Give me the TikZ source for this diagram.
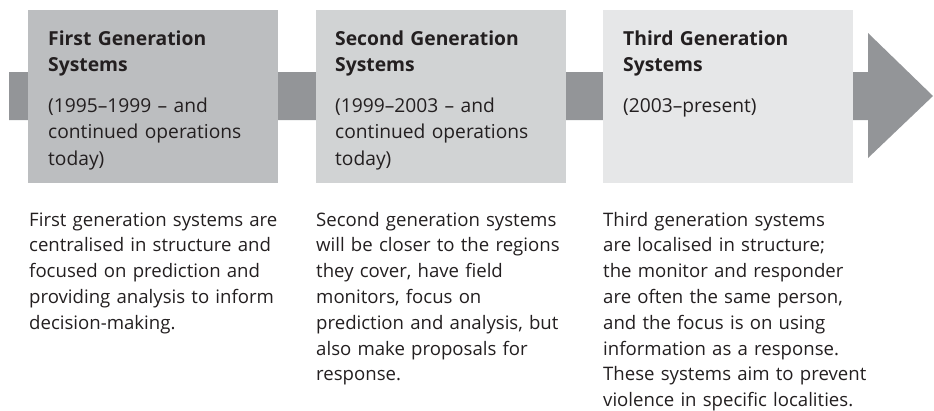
\documentclass[tikz,border=0pt]{standalone}
\usepackage{fontspec}
\setmainfont{Open Sans}
\definecolor{bargray}{HTML}{939598}
\definecolor{boxa}{HTML}{BCBEC0}
\definecolor{boxb}{HTML}{D1D3D4}
\definecolor{boxc}{HTML}{E6E7E8}
\definecolor{ink}{HTML}{231F20}
\tikzset{
  genbox/.style={anchor=north west, minimum width=250pt, minimum height=173pt, inner sep=0pt, draw=none},
  titletext/.style={anchor=base west, inner sep=0pt, text width=240pt, align=left, text=ink,
    font={\fontsize{19.3}{26}\selectfont\bfseries}},
  periodtext/.style={anchor=base west, inner sep=0pt, text width=240pt, align=left, text=ink,
    font={\fontsize{19.2}{26.5}\selectfont}},
  bodytext/.style={anchor=base west, inner sep=0pt, text width=300pt, align=left, text=ink,
    font={\fontsize{18.6}{25.8}\selectfont}}
}
\begin{document}
\begin{tikzpicture}[x=1pt,y=-1pt]
\useasboundingbox (0,0) rectangle (934,410);
% process arrow
\fill[bargray] (9,72) -- (868,72) -- (868,33) -- (933,96) -- (868,158) -- (868,120) -- (9,120) -- cycle;
% boxes
\node[genbox, fill=boxa] (b1) at (28,10) {};
\node[genbox, fill=boxb] (b2) at (316,10) {};
\node[genbox, fill=boxc] (b3) at (603,10) {};
% titles
\node[titletext] (t1) at (48,45) {First Generation\\Systems};
\node[titletext] (t2) at (335,45) {Second Generation\\Systems};
\node[titletext] (t3) at (623,45) {Third Generation\\Systems};
% periods
\node[periodtext] (p1) at (48,112) {(1995–1999 – and\\continued operations\\today)};
\node[periodtext] (p2) at (335,112) {(1999–2003 – and\\continued operations\\today)};
\node[periodtext] (p3) at (623,112) {(2003–present)};
% descriptions
\node[bodytext] (d1) at (29,226) {First generation systems are\\centralised in structure and\\focused on prediction and\\providing analysis to inform\\decision-making.};
\node[bodytext] (d2) at (316,226) {Second generation systems\\will be closer to the regions\\they cover, have field\\monitors, focus on\\prediction and analysis, but\\also make proposals for\\response.};
\node[bodytext] (d3) at (603,226) {Third generation systems\\are localised in structure;\\the monitor and responder\\are often the same person,\\and the focus is on using\\information as a response.\\These systems aim to prevent\\violence in specific localities.};
\end{tikzpicture}
\end{document}
